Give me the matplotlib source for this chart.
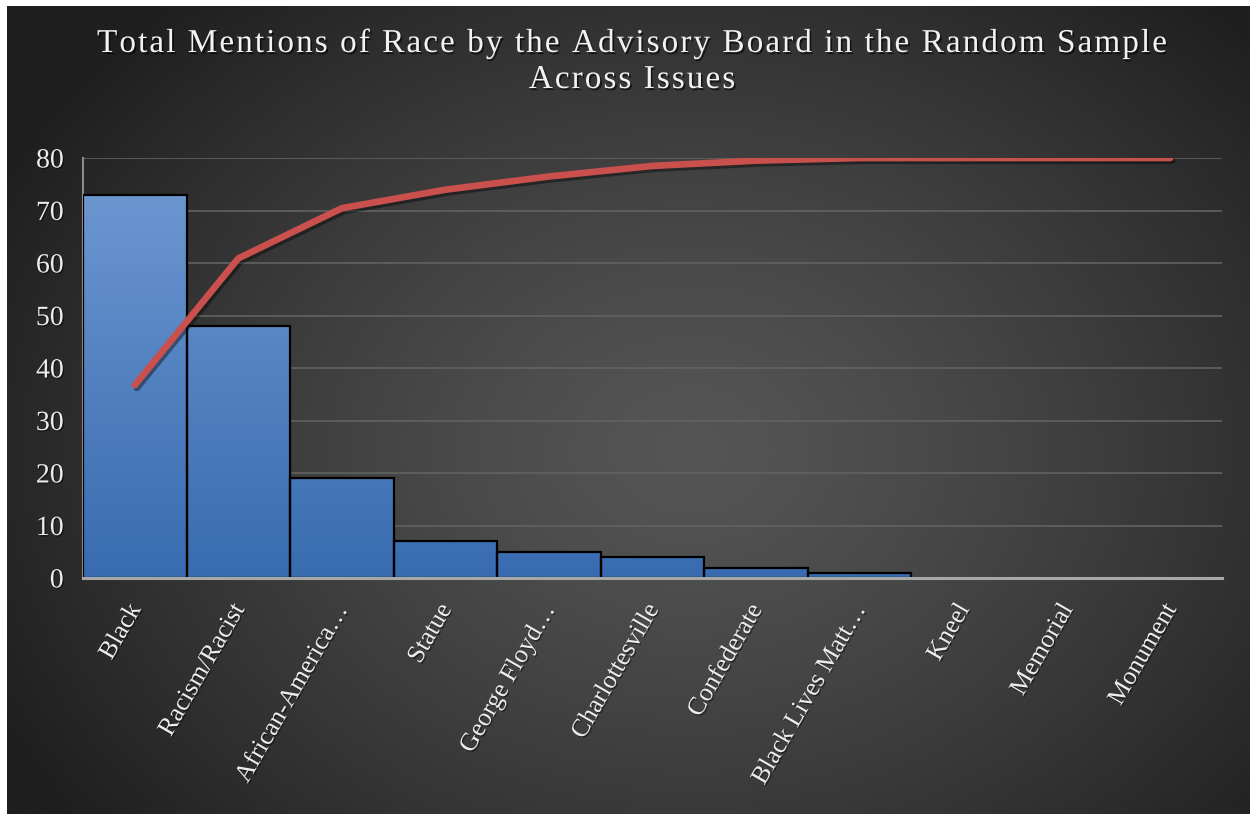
import numpy as np
import matplotlib
matplotlib.use("Agg")
import matplotlib.pyplot as plt
from matplotlib.patches import Rectangle
from matplotlib.textpath import TextToPath
from matplotlib.font_manager import FontProperties
import matplotlib.patheffects as pe
import matplotlib.transforms as mtransforms

# ---- data -------------------------------------------------------------
categories = ["Black", "Racism/Racist", "African-America\u2026", "Statue",
              "George Floyd\u2026", "Charlottesville", "Confederate",
              "Black Lives Matt\u2026", "Kneel", "Memorial", "Monument"]
mentions = [73, 48, 19, 7, 5, 4, 2, 1, 0, 0, 0]
y_ticks = [0, 10, 20, 30, 40, 50, 60, 70, 80]
title_lines = ["Total Mentions of Race by the Advisory Board in the Random Sample",
               "Across Issues"]

# cumulative share (secondary scale, 0-100 %)
counts = np.array(mentions, dtype=float)
cum_pct = np.cumsum(counts) / counts.sum() * 100

W, H, DPI = 1250, 814, 100
fig = plt.figure(figsize=(W / DPI, H / DPI), dpi=DPI, facecolor="white")

# ---- dark radial background ------------------------------------------
bg = fig.add_axes([7 / W, 0, 1 - 7 / W, 1 - 6 / H])
bg.set_axis_off()
ny, nx = 400, 600
yy, xx = np.mgrid[0:1:ny * 1j, 0:1:nx * 1j]
r = np.sqrt(((xx - 0.55) / 0.62) ** 2 + ((yy - 0.55) / 0.75) ** 2)
r = np.clip(r, 0, 1)
inner = np.array([0x55, 0x55, 0x55]) / 255
outer = np.array([0x1f, 0x1f, 0x1f]) / 255
img = inner[None, None, :] * (1 - r[..., None] ** 1.3) + outer[None, None, :] * (r[..., None] ** 1.3)
bg.imshow(img, extent=[0, 1, 0, 1], aspect="auto", origin="upper")
bg.set_xlim(0, 1)
bg.set_ylim(0, 1)

# ---- main axes --------------------------------------------------------
left, right, bottom, top = 83 / W, 1222 / W, 1 - 578 / H, 1 - 158 / H
ax = fig.add_axes([left, bottom, right - left, top - bottom])
ax.patch.set_alpha(0)
x = np.arange(len(categories))

for yv in y_ticks[1:]:
    ax.axhline(yv, color="#626262", lw=1.2, zorder=0.5)

# gradient-filled bars
grad = np.linspace(0, 1, 256)[:, None]
c_top = np.array([0x70, 0x9a, 0xd3]) / 255
c_bot = np.array([0x38, 0x6b, 0xb0]) / 255
grad_img = c_top[None, None, :] * (1 - grad[..., None]) + c_bot[None, None, :] * grad[..., None]
grad_img = np.repeat(grad_img, 2, axis=1)
for xi, v in zip(x, mentions):
    if v <= 0:
        continue
    rect = Rectangle((xi - 0.5, 0), 1.0, v, facecolor="none",
                     edgecolor="black", lw=1.6, zorder=3)
    ax.add_patch(rect)
    im = ax.imshow(grad_img, extent=[xi - 0.5, xi + 0.5, 0, 80],
                   aspect="auto", origin="upper", zorder=2)
    im.set_clip_path(rect)

ax.set_xlim(-0.5, len(categories) - 0.5)
ax.set_ylim(0, 80)

for s in ["top", "right"]:
    ax.spines[s].set_visible(False)
ax.spines["bottom"].set_color("#a8a8a8")
ax.spines["bottom"].set_linewidth(2.2)
ax.spines["bottom"].set_zorder(4)
ax.spines["left"].set_color("#8a8a8a")
ax.spines["left"].set_linewidth(1.5)

serif = ["Liberation Serif", "DejaVu Serif"]
txt_shadow = [pe.withSimplePatchShadow(offset=(1, -1), shadow_rgbFace="black", alpha=0.45)]
ax.set_yticks(y_ticks)
ax.set_yticklabels([str(t) for t in y_ticks], family=serif, fontsize=20,
                   color="#ececec")
ax.tick_params(axis="y", length=0, pad=14)
ax.set_xticks(x)
ax.set_xticklabels(categories, family=serif, fontsize=18.5, color="#ececec",
                   rotation=60, ha="right", rotation_mode="anchor")
ax.tick_params(axis="x", length=0, pad=16)
for lab in ax.get_xticklabels():
    lab.set_transform(lab.get_transform() + mtransforms.ScaledTranslation(-0.08, 0, fig.dpi_scale_trans))
for lab in ax.get_xticklabels() + ax.get_yticklabels():
    lab.set_path_effects(txt_shadow)

# cumulative line on a hidden 0-100 % scale
ax2 = ax.twinx()
ax2.set_ylim(0, 100)
ax2.set_axis_off()
ax2.plot(x, cum_pct, color="#c9504d", lw=4.8, solid_capstyle="round",
         solid_joinstyle="round", zorder=5,
         path_effects=[pe.SimpleLineShadow(offset=(1.5, -2), alpha=0.4, shadow_color="black"),
                       pe.Normal()])

# ---- letter-spaced title ---------------------------------------------
prop = FontProperties(family=serif, size=24)
t2p = TextToPath()


def spaced_title(line, y_px, target_px=None, spacing_px=6.0):
    widths = []
    for ch in line:
        w, _, _ = t2p.get_text_width_height_descent(ch, prop, ismath=False)
        widths.append(w * DPI / 72)
    base = sum(widths)
    if target_px is not None:
        spacing_px = (target_px - base) / (len(line) - 1)
    total = base + spacing_px * (len(line) - 1)
    xpos = 632 - total / 2
    for ch, w in zip(line, widths):
        fig.text(xpos / W, 1 - y_px / H, ch, fontproperties=prop,
                 color="#f2f2f2", ha="left", va="baseline",
                 path_effects=[pe.withSimplePatchShadow(offset=(1.2, -1.5),
                                                        shadow_rgbFace="black",
                                                        alpha=0.6)])
        xpos += w + spacing_px
    return spacing_px


sp = spaced_title(title_lines[0], 52, target_px=1070)
spaced_title(title_lines[1], 88, spacing_px=sp)

fig.savefig("out.png", dpi=DPI, facecolor=fig.get_facecolor())
